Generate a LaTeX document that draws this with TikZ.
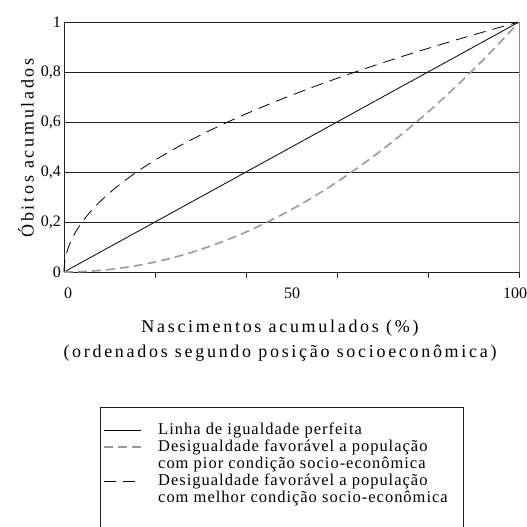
\documentclass[tikz,border=0pt]{standalone}
\usepackage{fontspec}
\setmainfont{Liberation Serif}
\newfontfamily\widefont[LetterSpace=15]{Liberation Serif}
\newfontfamily\legendfont[LetterSpace=6]{Liberation Serif}
\usetikzlibrary{positioning}
\definecolor{gridgray}{HTML}{222222}
\definecolor{poorgray}{HTML}{9A9A9A}
\definecolor{framegray}{HTML}{8C8C8C}

\begin{document}
\begin{tikzpicture}[
  x=1pt, y=-1pt,
  gridline/.style={gridgray, line width=0.7pt},
  equality/.style={black, line width=0.8pt},
  poorcurve/.style={poorgray, line width=1.6pt, dash pattern=on 9pt off 5pt},
  richcurve/.style={black, line width=0.8pt, dash pattern=on 12pt off 7pt},
  ticklabel/.style={font=\fontsize{16}{16}\selectfont, inner sep=1pt},
  axistitle/.style={font=\widefont\fontsize{18}{25}\selectfont, align=center, inner sep=0pt},
  legendtext/.style={font=\legendfont\fontsize{16.5}{17}\selectfont, anchor=base west, inner sep=0pt}
]
  \useasboundingbox (0,0) rectangle (527,527);

  % Plot area: 0..100 % across, 0..1 up
  \begin{scope}[shift={(64,272)}, x=4.55pt, y=250pt]
    \foreach \yv in {0.2,0.4,0.6,0.8,1}
      \draw[gridline] (0,\yv) -- (100,\yv);
    \draw[gridline] (0,0) -- (100,0);
    \draw[gridline] (0,0) -- (0,1);
    \draw[framegray, line width=0.7pt] (100,0) -- (100,1);
    \foreach \xv in {20,40,...,100}
      \draw[gridline] (\xv,0) -- (\xv,-0.025);

    % Curves
    \draw[equality] (0,0) -- (100,1);
    \draw[poorcurve] plot[domain=0:1, samples=60, smooth] ({100*\x}, {\x*\x});
    \draw[richcurve] plot[domain=0:1, samples=60, smooth] ({100*\x*\x}, \x);

    % Tick labels
    \node[ticklabel, anchor=east, xshift=-2pt] (ytick0) at (0,0) {0};
    \node[ticklabel, anchor=east, xshift=-2pt] (ytick2) at (0,0.2) {0,2};
    \node[ticklabel, anchor=east, xshift=-2pt] (ytick4) at (0,0.4) {0,4};
    \node[ticklabel, anchor=east, xshift=-2pt] (ytick6) at (0,0.6) {0,6};
    \node[ticklabel, anchor=east, xshift=-2pt] (ytick8) at (0,0.8) {0,8};
    \node[ticklabel, anchor=east, xshift=-2pt] (ytick10) at (0,1) {1};
  \end{scope}

  \node[ticklabel] (xtick0) at (68,293) {0};
  \node[ticklabel] (xtick50) at (292,293) {50};
  \node[ticklabel] (xtick100) at (515,293) {100};

  % Axis titles
  \node[axistitle, rotate=90] (ytitle) at (26,148) {Óbitos acumulados};
  \node[axistitle] (xtitle) at (280,341) {Nascimentos acumulados (\%)\\(ordenados segundo posição socioeconômica)};

  % Legend
  \draw[gridline] (100,407) rectangle (463,530);
  \node[legendtext] (leg1) at (158,434) {Linha de igualdade perfeita};
  \node[legendtext] (leg2) at (158,451) {Desigualdade favorável a população};
  \node[legendtext] (leg2b) at (158,468) {com pior condição socio-econômica};
  \node[legendtext] (leg3) at (158,485) {Desigualdade favorável a população};
  \node[legendtext] (leg3b) at (158,502) {com melhor condição socio-econômica};
  \draw[equality] ([xshift=-54pt, yshift=4pt]leg1.base west) -- ([xshift=-17pt, yshift=4pt]leg1.base west);
  \draw[poorcurve, line width=1.2pt] ([xshift=-54pt, yshift=4pt]leg2.base west) -- ([xshift=-17pt, yshift=4pt]leg2.base west);
  \draw[richcurve] ([xshift=-54pt, yshift=4pt]leg3.base west) -- ([xshift=-17pt, yshift=4pt]leg3.base west);
\end{tikzpicture}
\end{document}
